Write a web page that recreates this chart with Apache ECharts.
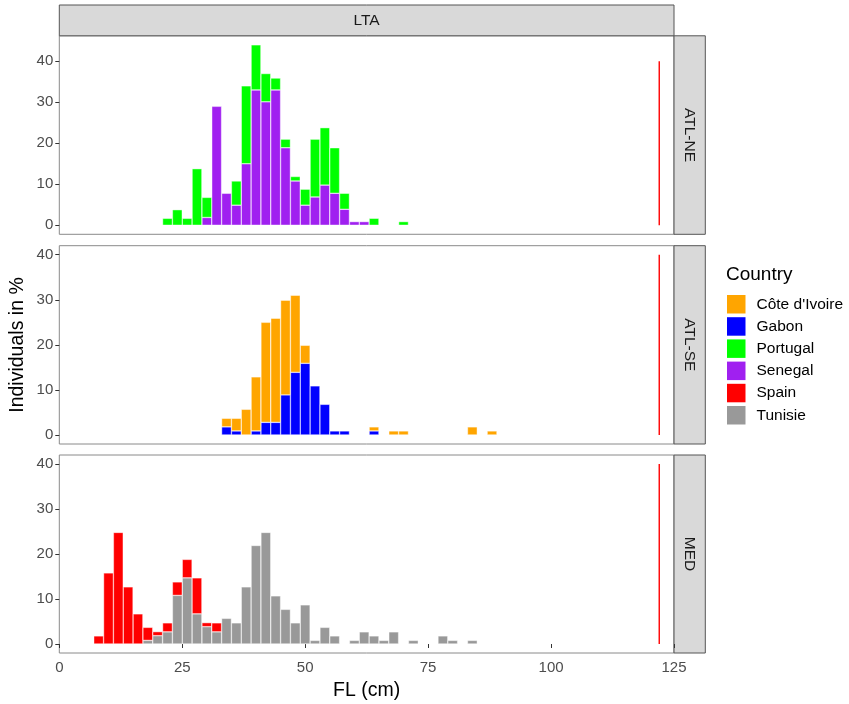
<!DOCTYPE html>
<html><head><meta charset="utf-8">
<script src="https://cdn.jsdelivr.net/npm/echarts@6/dist/echarts.min.js"></script>
<style>html,body{margin:0;padding:0;background:#fff}#c{width:849px;height:704px}</style>
</head><body><div id="c"></div>
<script>
// ---- data ----
const countries = ["Côte d'Ivoire", "Gabon", "Portugal", "Senegal", "Spain", "Tunisie"];
const countryColors = ["#FFA500", "#0000FF", "#00FF00", "#A020F0", "#FF0000", "#999999"];
const facetRows = ["ATL-NE", "ATL-SE", "MED"];
const facetCol = "LTA";
const xTicks = [0, 25, 50, 75, 100, 125];
const yTicks = [0, 10, 20, 30, 40];
const binWidth = 2;
const refLineX = 122;
const refLineY = [0, 40];

// ATL-NE
const neBins     = [22, 24, 26, 28, 30, 32, 34, 36, 38, 40, 42, 44, 46, 48, 50, 52, 54, 56, 58, 60, 62, 64, 70];
const neSenegal  = [null, null, null, null, 1.9, 29, 7.8, 4.9, 15, 33, 30.1, 33, 18.9, 10.8, 4.9, 6.9, 9.8, 7.8, 3.9, 0.9, 0.9, null, null];
const nePortugal = [1.7, 3.8, 1.7, 13.8, 4.9, null, null, 5.9, 19, 11, 6.9, 2.9, 2.1, 1.1, 3.9, 14.1, 14, 11.1, 3.9, null, null, 1.7, 0.9];

// ATL-SE
const seBins  = [34, 36, 38, 40, 42, 44, 46, 48, 50, 52, 54, 56, 58, 64, 68, 70, 84, 88];
const seGabon = [1.8, 0.9, null, 0.9, 2.8, 2.8, 8.9, 13.9, 15.9, 10.9, 6.8, 0.9, 0.9, 0.9, null, null, null, null];
const seCote  = [1.9, 2.8, 5.7, 12, 22.2, 23.1, 21, 17.1, 4, null, null, null, null, 0.9, 0.9, 0.9, 1.8, 0.9];

// MED
const medBins    = [8, 10, 12, 14, 16, 18, 20, 22, 24, 26, 28, 30, 32, 34, 36, 38, 40, 42, 44, 46, 48, 50, 52, 54, 56, 60, 62, 64, 66, 68, 72, 78, 80, 84];
const medTunisie = [null, null, null, null, null, 0.8, 1.85, 2.7, 10.8, 14.7, 6.7, 3.85, 2.7, 5.7, 4.7, 12.7, 21.9, 24.8, 10.7, 7.7, 4.7, 8.7, 0.8, 3.7, 1.8, 0.8, 2.7, 1.8, 0.8, 2.7, 0.8, 1.8, 0.8, 0.8];
const medSpain   = [1.8, 15.8, 24.8, 12.7, 6.7, 2.9, 0.9, 2, 3, 4.1, 8, 0.9, 2, null, null, null, null, null, null, null, null, null, null, null, null, null, null, null, null, null, null, null, null, null];

// ---- layout ----
const FONT = "'Liberation Sans', Arial, Helvetica, sans-serif";
const gLeft = 59.3, gWidth = 614.7;
const panels = [
  { top: 35.8, height: 198.5, ymin: -2.2, ymax: 46.2 },
  { top: 245.7, height: 198.3, ymin: -2, ymax: 42 },
  { top: 455, height: 198, ymin: -2, ymax: 42 }
];
const stripW = 31.3;
const barPx = gWidth / (xTicks[xTicks.length - 1] - xTicks[0]) * binWidth;

const chart = echarts.init(document.getElementById('c'), null, { renderer: 'canvas' });

const grids = panels.map(p => ({
  left: gLeft, top: p.top, width: gWidth, height: p.height,
  show: true, borderColor: '#8a8a8a', borderWidth: 1, backgroundColor: '#fff', containLabel: false
}));

const xAxes = panels.map((p, i) => ({
  type: 'value', gridIndex: i, min: xTicks[0], max: xTicks[xTicks.length - 1], interval: 25,
  axisLine: { show: false }, splitLine: { show: false },
  axisTick: { show: i === 2, length: 4, lineStyle: { color: '#333', width: 1 } },
  axisLabel: { show: i === 2, color: '#4d4d4d', fontSize: 15, fontFamily: FONT, margin: 7 }
}));

const yAxes = panels.map((p, i) => ({
  type: 'value', gridIndex: i, min: p.ymin, max: p.ymax,
  axisLine: { show: false }, splitLine: { show: false },
  axisTick: { show: true, length: 4, customValues: yTicks, lineStyle: { color: '#333', width: 1 } },
  axisLabel: { show: true, customValues: yTicks, color: '#4d4d4d', fontSize: 15, fontFamily: FONT, margin: 6 }
}));

function colorOf(name) { return countryColors[countries.indexOf(name)]; }
// data rows are [value, bin] so the stacked dimension (first numeric column) is the y value
function bars(idx, name, bins, vals) {
  return {
    type: 'bar', name: name, xAxisIndex: idx, yAxisIndex: idx, stack: 'p' + idx,
    barWidth: barPx, silent: true, animation: false,
    encode: { x: 1, y: 0 },
    itemStyle: { color: colorOf(name), borderColor: 'rgba(255,255,255,0.85)', borderWidth: 0.5 },
    data: bins.map((b, k) => [vals[k] == null ? '-' : vals[k], b])
  };
}
function refLine(idx) {
  return {
    type: 'line', name: 'ref' + idx, xAxisIndex: idx, yAxisIndex: idx, silent: true, animation: false,
    symbol: 'none', lineStyle: { color: '#ff0000', width: 1.4 },
    data: refLineY.map(v => [refLineX, v])
  };
}

const series = [
  bars(0, 'Senegal', neBins, neSenegal),
  bars(0, 'Portugal', neBins, nePortugal),
  bars(1, 'Gabon', seBins, seGabon),
  bars(1, "Côte d'Ivoire", seBins, seCote),
  bars(2, 'Tunisie', medBins, medTunisie),
  bars(2, 'Spain', medBins, medSpain),
  refLine(0), refLine(1), refLine(2)
];

const graphics = [];
graphics.push({ type: 'rect', shape: { x: gLeft, y: 5, width: gWidth, height: 30.8 },
  style: { fill: '#d9d9d9', stroke: '#555', lineWidth: 1 } });
graphics.push({ type: 'text', x: gLeft + gWidth / 2, y: 20.4,
  style: { text: facetCol, fill: '#1a1a1a', font: '15.5px ' + FONT, textAlign: 'center', textVerticalAlign: 'middle' } });
panels.forEach((p, i) => {
  graphics.push({ type: 'rect', shape: { x: gLeft + gWidth, y: p.top, width: stripW, height: p.height },
    style: { fill: '#d9d9d9', stroke: '#555', lineWidth: 1 } });
  graphics.push({ type: 'text', x: gLeft + gWidth + stripW / 2, y: p.top + p.height / 2, rotation: -Math.PI / 2,
    style: { text: facetRows[i], fill: '#1a1a1a', font: '15.5px ' + FONT, textAlign: 'center', textVerticalAlign: 'middle' } });
});
graphics.push({ type: 'text', x: gLeft + gWidth / 2, y: 691,
  style: { text: 'FL (cm)', fill: '#000', font: '19.5px ' + FONT, textAlign: 'center', textVerticalAlign: 'middle' } });
graphics.push({ type: 'text', x: 18, y: 345, rotation: Math.PI / 2,
  style: { text: 'Individuals in %', fill: '#000', font: '19.5px ' + FONT, textAlign: 'center', textVerticalAlign: 'middle' } });
graphics.push({ type: 'text', x: 726, y: 275,
  style: { text: 'Country', fill: '#000', font: '19px ' + FONT, textAlign: 'left', textVerticalAlign: 'middle' } });

chart.setOption({
  animation: false,
  backgroundColor: '#fff',
  grid: grids,
  xAxis: xAxes,
  yAxis: yAxes,
  series: series,
  legend: {
    data: countries, orient: 'vertical', left: 727, top: 295, padding: 0,
    itemWidth: 18.5, itemHeight: 18.5, itemGap: 3.7, icon: 'rect', selectedMode: false,
    itemStyle: { borderWidth: 0 },
    textStyle: { fontSize: 15.5, fontFamily: FONT, color: '#000', padding: [0, 0, 0, 6] }
  },
  graphic: graphics
});
</script></body></html>
